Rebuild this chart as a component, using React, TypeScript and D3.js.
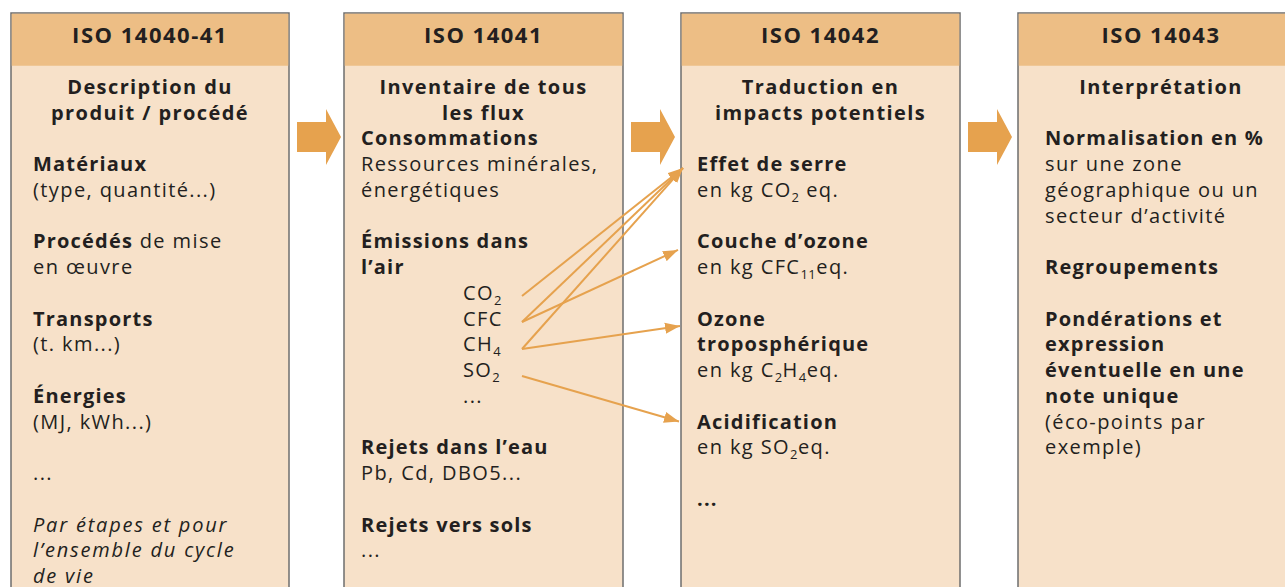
import React from "react";
import * as d3 from "d3";

type Seg = [string, string]; // [text, style: n | b | i | s(sub)]
type Row = { row: number; segs: Seg[] };

const headers = ["ISO 14040-41", "ISO 14041", "ISO 14042", "ISO 14043"];
const titles = [
  ["Description du", "produit / procédé"],
  ["Inventaire de tous", "les flux"],
  ["Traduction en", "impacts potentiels"],
  ["Interprétation"],
];

const box1Rows: Row[] = [
  { row: 3, segs: [["Matériaux", "b"]] },
  { row: 4, segs: [["(type, quantité...)", "n"]] },
  { row: 6, segs: [["Procédés", "b"], [" de mise", "n"]] },
  { row: 7, segs: [["en œuvre", "n"]] },
  { row: 9, segs: [["Transports", "b"]] },
  { row: 10, segs: [["(t. km...)", "n"]] },
  { row: 12, segs: [["Énergies", "b"]] },
  { row: 13, segs: [["(MJ, kWh...)", "n"]] },
  { row: 15, segs: [["...", "n"]] },
  { row: 17, segs: [["Par étapes et pour", "i"]] },
  { row: 18, segs: [["l’ensemble du cycle", "i"]] },
  { row: 19, segs: [["de vie", "i"]] },
];

const box2Rows: Row[] = [
  { row: 2, segs: [["Consommations", "b"]] },
  { row: 3, segs: [["Ressources minérales,", "n"]] },
  { row: 4, segs: [["énergétiques", "n"]] },
  { row: 6, segs: [["Émissions dans", "b"]] },
  { row: 7, segs: [["l’air", "b"]] },
  { row: 14, segs: [["Rejets dans l’eau", "b"]] },
  { row: 15, segs: [["Pb, Cd, DBO5...", "n"]] },
  { row: 17, segs: [["Rejets vers sols", "b"]] },
  { row: 18, segs: [["...", "n"]] },
];

const emissions: { key: string; row: number; segs: Seg[] }[] = [
  { key: "CO2", row: 8, segs: [["CO", "n"], ["2", "s"]] },
  { key: "CFC", row: 9, segs: [["CFC", "n"]] },
  { key: "CH4", row: 10, segs: [["CH", "n"], ["4", "s"]] },
  { key: "SO2", row: 11, segs: [["SO", "n"], ["2", "s"]] },
  { key: "etc", row: 12, segs: [["...", "n"]] },
];

const box3Rows: Row[] = [
  { row: 3, segs: [["Effet de serre", "b"]] },
  { row: 4, segs: [["en kg CO", "n"], ["2", "s"], [" eq.", "n"]] },
  { row: 6, segs: [["Couche d’ozone", "b"]] },
  { row: 7, segs: [["en kg CFC", "n"], ["11", "s"], ["eq.", "n"]] },
  { row: 9, segs: [["Ozone", "b"]] },
  { row: 10, segs: [["troposphérique", "b"]] },
  { row: 11, segs: [["en kg C", "n"], ["2", "s"], ["H", "n"], ["4", "s"], ["eq.", "n"]] },
  { row: 13, segs: [["Acidification", "b"]] },
  { row: 14, segs: [["en kg SO", "n"], ["2", "s"], ["eq.", "n"]] },
  { row: 16, segs: [["...", "b"]] },
];

const box4Rows: Row[] = [
  { row: 2, segs: [["Normalisation en %", "b"]] },
  { row: 3, segs: [["sur une zone", "n"]] },
  { row: 4, segs: [["géographique ou un", "n"]] },
  { row: 5, segs: [["secteur d’activité", "n"]] },
  { row: 7, segs: [["Regroupements", "b"]] },
  { row: 9, segs: [["Pondérations et", "b"]] },
  { row: 10, segs: [["expression", "b"]] },
  { row: 11, segs: [["éventuelle en une", "b"]] },
  { row: 12, segs: [["note unique", "b"]] },
  { row: 13, segs: [["(éco-points par", "n"]] },
  { row: 14, segs: [["exemple)", "n"]] },
];

const boxRows = [box1Rows, box2Rows, box3Rows, box4Rows];

// impact anchors (row units) for the flow arrows
const impactAnchors: Record<string, number> = {
  "Effet de serre": 3.15,
  "Couche d’ozone": 6.33,
  "Ozone troposphérique": 9.29,
  Acidification: 13.0,
};
const emissionAnchors: Record<string, number> = { CO2: 8.12, CFC: 9.13, CH4: 10.18, SO2: 11.23 };

const links: [string, string][] = [
  ["CO2", "Effet de serre"],
  ["CFC", "Effet de serre"],
  ["CFC", "Couche d’ozone"],
  ["CH4", "Effet de serre"],
  ["CH4", "Ozone troposphérique"],
  ["SO2", "Acidification"],
];

const W = 1285;
const H = 587;
const FONT = "'Open Sans', 'DejaVu Sans', sans-serif";
const TEXT = "#231f20";
const ORANGE = "#e6a24e";
const LS: Record<string, number> = { n: 1.4, b: 1.2, i: 1.8, s: 0.5 };

function renderSegs(segs: Seg[]) {
  let inSub = false;
  return segs.map((s, i) => {
    const [t, st] = s;
    let dy = 0;
    if (st === "s" && !inSub) {
      dy = 5;
      inSub = true;
    } else if (st !== "s" && inSub) {
      dy = -5;
      inSub = false;
    }
    return (
      <tspan
        key={i}
        dy={dy || undefined}
        fontWeight={st === "b" ? 700 : 400}
        fontStyle={st === "i" ? "italic" : "normal"}
        fontSize={st === "s" ? 13 : undefined}
        letterSpacing={LS[st]}
      >
        {t}
      </tspan>
    );
  });
}

export default function App() {
  const rowY = d3.scaleLinear().domain([0, 19]).range([87, 576]);
  const boxX = [11, 344, 681, 1018];
  const boxW = [278, 279, 279, 286];
  const padX = [22, 17, 16, 27];
  const top = 13;
  const headH = 52;
  const fs = 20;
  const base = (r: number) => rowY(r) + 7;

  const emX = boxX[1] + 119;
  const linkStartX = boxX[1] + 178;
  const linkEndX: Record<string, number> = {
    "Effet de serre": boxX[2] + 2,
    "Couche d’ozone": boxX[2] - 3,
    "Ozone troposphérique": boxX[2] - 1,
    Acidification: boxX[2] - 2,
  };

  const bigArrows = [0, 1, 2].map((i) => {
    const x0 = boxX[i] + boxW[i] + 8;
    const cy = rowY(1.94);
    return [
      [x0, cy - 15],
      [x0 + 29, cy - 15],
      [x0 + 29, cy - 28],
      [x0 + 44, cy],
      [x0 + 29, cy + 28],
      [x0 + 29, cy + 15],
      [x0, cy + 15],
    ];
  });

  return (
    <svg
      width={W}
      height={H}
      style={{ position: "absolute", left: 0, top: 0, background: "#fff" }}
      fontFamily={FONT}
    >
      <defs>
        <marker
          id="ah"
          markerUnits="userSpaceOnUse"
          markerWidth={16}
          markerHeight={12}
          refX={15}
          refY={6}
          orient="auto"
        >
          <path d="M0,0.5 L15,6 L0,11.5 z" fill={ORANGE} />
        </marker>
      </defs>
      {headers.map((h, i) => (
        <g key={h}>
          <rect x={boxX[i]} y={top} width={boxW[i]} height={H + 20} fill="#f7e1c9" stroke="#6e6e6e" strokeWidth={1.5} />
          <rect x={boxX[i] + 0.75} y={top + 0.75} width={boxW[i] - 1.5} height={headH} fill="#edbe85" />
          <text
            x={boxX[i] + boxW[i] / 2}
            y={top + 30}
            textAnchor="middle"
            fontWeight={700}
            fontSize={22}
            letterSpacing={1.5}
            fill={TEXT}
          >
            {h}
          </text>
          {titles[i].map((t, j) => (
            <text
              key={t}
              x={boxX[i] + boxW[i] / 2}
              y={base(j)}
              textAnchor="middle"
              fontWeight={700}
              fontSize={fs}
              letterSpacing={1.4}
              fill={TEXT}
            >
              {t}
            </text>
          ))}
          {boxRows[i].map((r) => (
            <text key={r.row} x={boxX[i] + padX[i]} y={base(r.row)} fontSize={fs} fill={TEXT}>
              {renderSegs(r.segs)}
            </text>
          ))}
        </g>
      ))}
      {emissions.map((e) => (
        <text key={e.key} x={emX} y={base(e.row)} fontSize={fs} fill={TEXT}>
          {renderSegs(e.segs)}
        </text>
      ))}
      {bigArrows.map((pts, i) => (
        <polygon key={i} points={pts.map((p) => p.join(",")).join(" ")} fill={ORANGE} />
      ))}
      {links.map(([f, t], i) => (
        <line
          key={i}
          x1={linkStartX}
          y1={rowY(emissionAnchors[f])}
          x2={linkEndX[t]}
          y2={rowY(impactAnchors[t])}
          stroke={ORANGE}
          strokeWidth={2}
          markerEnd="url(#ah)"
        />
      ))}
    </svg>
  );
}
